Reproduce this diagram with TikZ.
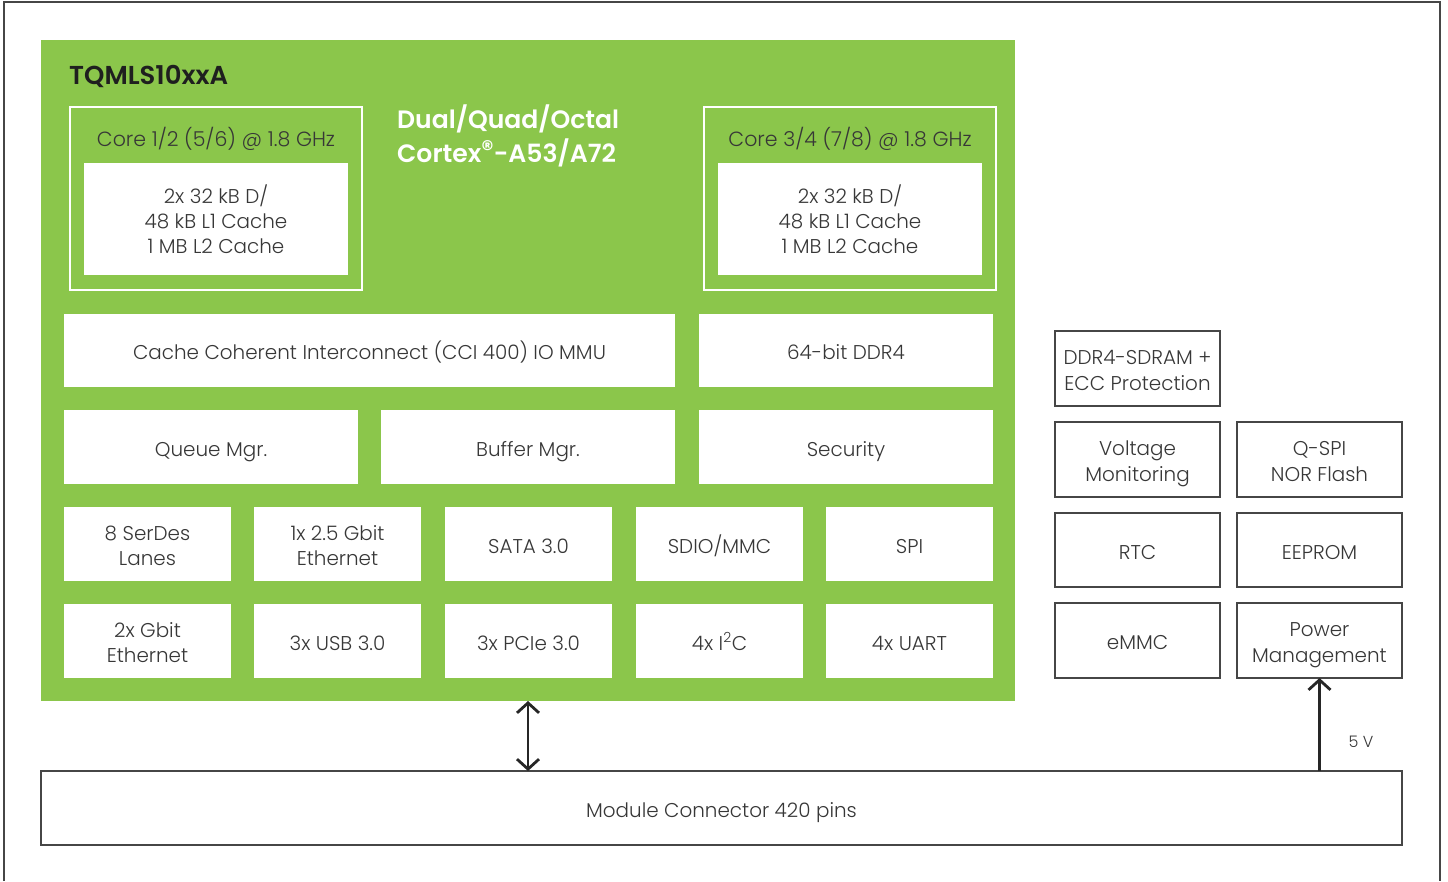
\documentclass[tikz,border=0pt]{standalone}
\usepackage{fontspec}
\setmainfont{Poppins}[UprightFont={* Light},BoldFont={* SemiBold}]
\usetikzlibrary{arrows.meta}
\definecolor{tqgreen}{RGB}{139,198,75}
\definecolor{txt}{RGB}{55,55,55}
\definecolor{edge}{RGB}{70,70,70}
% \bx[style]{name}{x1}{y1}{x2}{y2}{text}
\newcommand\bx[7][wbox]{%
  \node[#1,minimum width={(#5-#3)*1bp},minimum height={(#6-#4)*1bp}] (#2)
    at ({(#3+#5)/2},{(#4+#6)/2})
    {\raisebox{-4bp}[\height][\depth]{\begin{tabular}{@{}c@{}}#7\end{tabular}}};}
\begin{document}
\begin{tikzpicture}[x=1bp,y=-1bp,
  base/.style={inner sep=0pt,outer sep=0pt,align=center,text=txt,
    font=\fontsize{20}{25.5}\selectfont},
  wbox/.style={base,fill=white},
  obox/.style={base,fill=white,draw=edge,line width=1.5bp},
  corebox/.style={inner sep=0pt,outer sep=0pt,draw=white,line width=2.5bp},
  greenbox/.style={inner sep=0pt,outer sep=0pt,fill=tqgreen},
  conn/.style={draw=black!85,line width=2.8bp}
]
\useasboundingbox (0,0) rectangle (1448,881);
% outer frame
\draw[edge,line width=1.5bp] (4,881) -- (4,2) -- (1440,2) -- (1440,881);
% green module
\bx[greenbox]{soc}{41}{40}{1015}{701}{}
\node[anchor=base west,inner sep=0pt,text=black!88,font=\fontsize{26}{30}\bfseries\selectfont] (title) at (69,84) {TQMLS10xxA};
\node[anchor=north west,inner sep=0pt,align=left,text=white,font=\fontsize{25.2}{34}\bfseries\selectfont] (cpu) at (397,105) {Dual/Quad/Octal\\Cortex{\fontsize{24}{24}\selectfont\raisebox{5bp}{®}}-A53/A72};
% cores
\bx[corebox]{core1}{70}{107}{362}{290}{}
\node[base,font=\fontsize{20.6}{24}\selectfont] (core1l) at (216,139) {Core 1/2 (5/6) @ 1.8 GHz};
\bx{cache1}{84}{163}{348}{275}{2x 32 kB D/\\48 kB L1 Cache\\1 MB L2 Cache}
\bx[corebox]{core2}{704}{107}{996}{290}{}
\node[base,font=\fontsize{20.6}{24}\selectfont] (core2l) at (850,139) {Core 3/4 (7/8) @ 1.8 GHz};
\bx{cache2}{718}{163}{982}{275}{2x 32 kB D/\\48 kB L1 Cache\\1 MB L2 Cache}
% rows
\bx{cci}{64}{314}{675}{387}{Cache Coherent Interconnect (CCI 400) IO MMU}
\bx{ddr}{699}{314}{993}{387}{64-bit DDR4}
\bx{qm}{64}{410}{358}{484}{Queue Mgr.}
\bx{bm}{381}{410}{675}{484}{Buffer Mgr.}
\bx{sec}{699}{410}{993}{484}{Security}
\bx{serdes}{64}{507}{231}{581}{8 SerDes\\Lanes}
\bx{eth25}{254}{507}{421}{581}{1x 2.5 Gbit\\Ethernet}
\bx{sata}{445}{507}{612}{581}{SATA 3.0}
\bx{sdio}{636}{507}{803}{581}{SDIO/MMC}
\bx{spi}{826}{507}{993}{581}{SPI}
\bx{geth}{64}{604}{231}{678}{2x Gbit\\Ethernet}
\bx{usb}{254}{604}{421}{678}{3x USB 3.0}
\bx{pcie}{445}{604}{612}{678}{3x PCIe 3.0}
\bx{i2c}{636}{604}{803}{678}{4x I\textsuperscript{2}C}
\bx{uart}{826}{604}{993}{678}{4x UART}
% right side
\bx[obox]{sdram}{1055}{331}{1220}{406}{DDR4-SDRAM +\\ECC Protection}
\bx[obox]{volt}{1055}{422}{1220}{497}{Voltage\\Monitoring}
\bx[obox]{qspi}{1237}{422}{1402}{497}{Q-SPI\\NOR Flash}
\bx[obox]{rtc}{1055}{513}{1220}{587}{RTC}
\bx[obox]{eeprom}{1237}{513}{1402}{587}{EEPROM}
\bx[obox]{emmc}{1055}{603}{1220}{678}{eMMC}
\bx[obox]{pm}{1237}{603}{1402}{678}{Power\\Management}
% connector
\bx[obox]{mc}{41}{771}{1402}{845}{Module Connector 420 pins}
% arrows
\coordinate (ax) at (528,0);
\draw[conn,{Straight Barb[length=10bp,width=22bp]}-{Straight Barb[length=10bp,width=22bp]}]
  (soc.south -| ax) -- (mc.north -| ax);
\draw[conn,-{Straight Barb[length=10bp,width=22bp]}] (mc.north -| pm.south) -- (pm.south);
\node[base,font=\fontsize{16}{20}\selectfont] (fivev) at (1361,742) {5 V};
\end{tikzpicture}
\end{document}
